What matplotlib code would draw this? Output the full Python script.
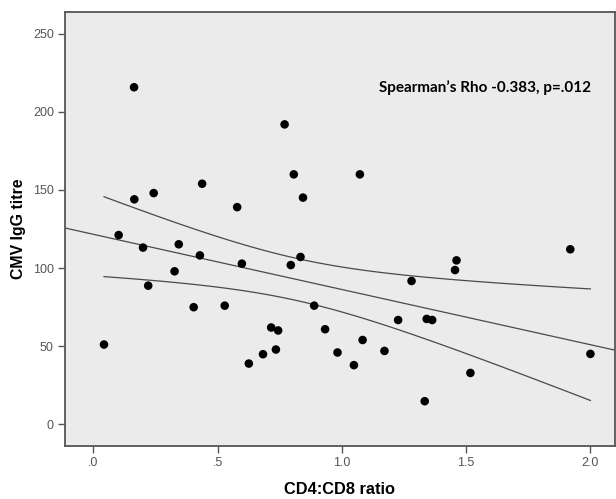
import numpy as np
import matplotlib.pyplot as plt

# CD4:CD8 ratio vs CMV IgG titre
cd4_cd8 = [0.164, 0.770, 0.807, 0.844, 0.438, 0.243, 0.165, 0.579, 0.102, 0.200,
           0.344, 0.429, 0.598, 0.834, 0.795, 0.327, 0.221, 0.404, 0.529, 0.889,
           0.933, 0.716, 0.744, 0.735, 0.683, 0.626, 0.043, 0.983, 1.073, 1.920,
           1.462, 1.456, 1.281, 1.227, 1.342, 1.364, 1.084, 1.172, 1.049, 1.518,
           1.334, 2.001]
cmv_igg = [215.8, 192.0, 160.0, 145.1, 154.0, 148.0, 144.0, 139.0, 121.1, 113.1,
           115.2, 108.1, 102.8, 107.1, 101.9, 97.9, 88.7, 74.9, 75.9, 75.9,
           60.8, 61.9, 60.0, 47.8, 44.8, 38.8, 51.0, 45.9, 160.0, 112.0,
           104.9, 98.7, 91.7, 66.7, 67.4, 66.7, 53.9, 46.9, 37.8, 32.8,
           14.7, 45.0]

x_ticks = [0.0, 0.5, 1.0, 1.5, 2.0]
x_tick_labels = ['.0', '.5', '1.0', '1.5', '2.0']
y_ticks = [0, 50, 100, 150, 200, 250]

x = np.array(cd4_cd8)
y = np.array(cmv_igg)

# linear fit and 95% confidence band for the mean
n = len(x)
slope, intercept = np.polyfit(x, y, 1)
resid = y - (slope * x + intercept)
s = np.sqrt(np.sum(resid ** 2) / (n - 2))
sxx = np.sum((x - x.mean()) ** 2)
t_val = 2.021

xlim = (-0.114, 2.10)
ylim = (-14, 264)

fig = plt.figure(figsize=(6.16, 4.99), dpi=100)
ax = fig.add_axes([65 / 616, 53 / 499, 550 / 616, 434 / 499])
ax.set_facecolor('#ebebeb')

line_col = '#4a4a4a'
xf = np.linspace(xlim[0], xlim[1], 100)
ax.plot(xf, slope * xf + intercept, color=line_col, lw=0.9, zorder=2)

xb = np.linspace(x.min(), x.max(), 100)
half = t_val * s * np.sqrt(1 / n + (xb - x.mean()) ** 2 / sxx)
yb = slope * xb + intercept
ax.plot(xb, yb + half, color=line_col, lw=0.9, zorder=2)
ax.plot(xb, yb - half, color=line_col, lw=0.9, zorder=2)

ax.scatter(x, y, s=38, color='black', edgecolors='none', zorder=3)

ax.set_xlim(xlim)
ax.set_ylim(ylim)
ax.set_xticks(x_ticks)
ax.set_xticklabels(x_tick_labels)
ax.set_yticks(y_ticks)

for sp in ax.spines.values():
    sp.set_color('#555555')
    sp.set_linewidth(1.3)

ax.tick_params(direction='out', length=5, width=1.0, color='#555555',
               labelcolor='#555555', labelsize=9, pad=3)
for lab in ax.get_xticklabels() + ax.get_yticklabels():
    lab.set_family('Liberation Sans')

ax.set_xlabel('CD4:CD8 ratio', fontsize=11.8, fontweight='bold',
              family='Liberation Sans', labelpad=9)
ax.set_ylabel('CMV IgG titre', fontsize=11.4, fontweight='bold',
              family='Liberation Sans', labelpad=5)

ax.text(0.956, 0.825, "Spearman\u2019s Rho -0.383, p=.012", transform=ax.transAxes,
        ha='right', va='center', fontsize=11, fontweight='bold', family='Lato')

fig.savefig('out.png', dpi=100)
